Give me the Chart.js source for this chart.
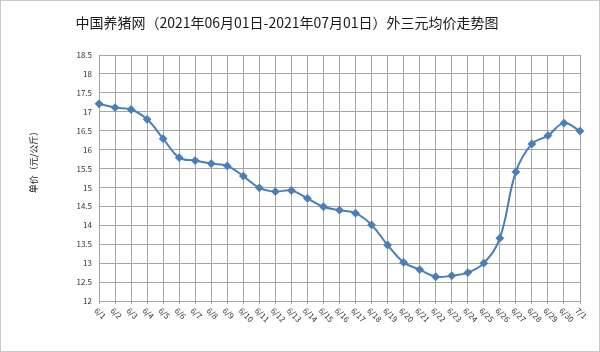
<!DOCTYPE html>
<html>
<head>
<meta charset="utf-8">
<script src="https://cdn.jsdelivr.net/npm/chart.js@4"></script>
<style>
  html, body { margin: 0; padding: 0; background: #fff; }
  #wrap { width: 600px; height: 352px; }
</style>
</head>
<body>
<div id="wrap"><canvas id="js-chart" width="600" height="352"></canvas></div>
<script>
'use strict'

const days = [
  '6/1', '6/2', '6/3', '6/4', '6/5', '6/6', '6/7', '6/8', '6/9', '6/10',
  '6/11', '6/12', '6/13', '6/14', '6/15', '6/16', '6/17', '6/18', '6/19', '6/20',
  '6/21', '6/22', '6/23', '6/24', '6/25', '6/26', '6/27', '6/28', '6/29', '6/30', '7/1'
]
const prices = [
  17.21, 17.11, 17.06, 16.8, 16.29, 15.79, 15.71, 15.63, 15.57, 15.3,
  14.99, 14.89, 14.92, 14.71, 14.49, 14.4, 14.32, 14.01, 13.48, 13.02,
  12.83, 12.64, 12.67, 12.75, 13.0, 13.66, 15.41, 16.15, 16.37, 16.7, 16.49
]
const yTicks = [12, 12.5, 13, 13.5, 14, 14.5, 15, 15.5, 16, 16.5, 17, 17.5, 18, 18.5]

const titleText = '中国养猪网（2021年06月01日-2021年07月01日）外三元均价走势图'
const yTitleText = '单价（元/公斤）'

const colors = {
  line: '#4a7ebb',
  grid: '#a6a6a6',
  text: '#333'
}
const cjk = '"Noto Sans CJK SC", "Noto Sans", sans-serif'

// 背景・枠線・タイトル・軸ラベル
const decorPlugin = {
  id: 'decor',
  beforeDraw(chart) {
    const ctx = chart.ctx
    ctx.save()
    ctx.fillStyle = '#fff'
    ctx.fillRect(0, 0, chart.width, chart.height)
    ctx.strokeStyle = '#c8c8c8'
    ctx.lineWidth = 1
    ctx.strokeRect(0.5, 0.5, chart.width - 1, chart.height - 1)
    ctx.restore()
  },
  afterDraw(chart) {
    const ctx = chart.ctx
    ctx.save()
    ctx.fillStyle = '#1a1a1a'
    ctx.font = '14px ' + cjk
    ctx.textAlign = 'center'
    ctx.textBaseline = 'middle'
    ctx.fillText(titleText, 287, 23)

    // y axis title
    ctx.font = '9px ' + cjk
    ctx.translate(34, 160)
    ctx.rotate(-Math.PI / 2)
    ctx.fillText(yTitleText, 0, 0)
    ctx.restore()

    // x tick labels, rotated clockwise
    const xScale = chart.scales.x
    ctx.save()
    ctx.fillStyle = colors.text
    ctx.font = '8px ' + cjk
    ctx.textAlign = 'left'
    ctx.textBaseline = 'middle'
    days.forEach((d, i) => {
      const x = xScale.getPixelForTick(i)
      ctx.save()
      ctx.translate(x - 3, chart.chartArea.bottom + 8)
      ctx.rotate(Math.PI / 4)
      ctx.fillText(d, 0, 0)
      ctx.restore()
    })
    ctx.restore()
  }
}

new Chart(document.getElementById('js-chart'), {
  type: 'line',
  data: {
    labels: days,
    datasets: [{
      data: prices,
      borderColor: colors.line,
      backgroundColor: colors.line,
      borderWidth: 2,
      tension: 0.4,
      pointStyle: 'rectRot',
      pointRadius: 3,
      pointHoverRadius: 3,
      clip: false
    }]
  },
  options: {
    responsive: false,
    animation: false,
    layout: {
      padding: { top: 55, bottom: 51, right: 20, left: 0 }
    },
    plugins: {
      legend: { display: false },
      title: { display: false },
      tooltip: { enabled: false }
    },
    scales: {
      x: {
        offset: false,
        grid: {
          color: colors.grid,
          drawTicks: true,
          tickLength: 3
        },
        border: { color: colors.grid },
        ticks: { display: false },
        afterFit(scale) { scale.height = 0 }
      },
      y: {
        min: 12,
        max: 18.5,
        afterBuildTicks(scale) {
          scale.ticks = yTicks.map(v => ({ value: v }))
        },
        grid: {
          color: colors.grid,
          drawTicks: false
        },
        border: { color: colors.grid },
        ticks: {
          color: colors.text,
          font: { size: 8, family: cjk },
          padding: 7,
          callback: (value) => String(value)
        },
        afterFit(scale) { scale.width = 99 }
      }
    }
  },
  plugins: [decorPlugin]
})
</script>
</body>
</html>
